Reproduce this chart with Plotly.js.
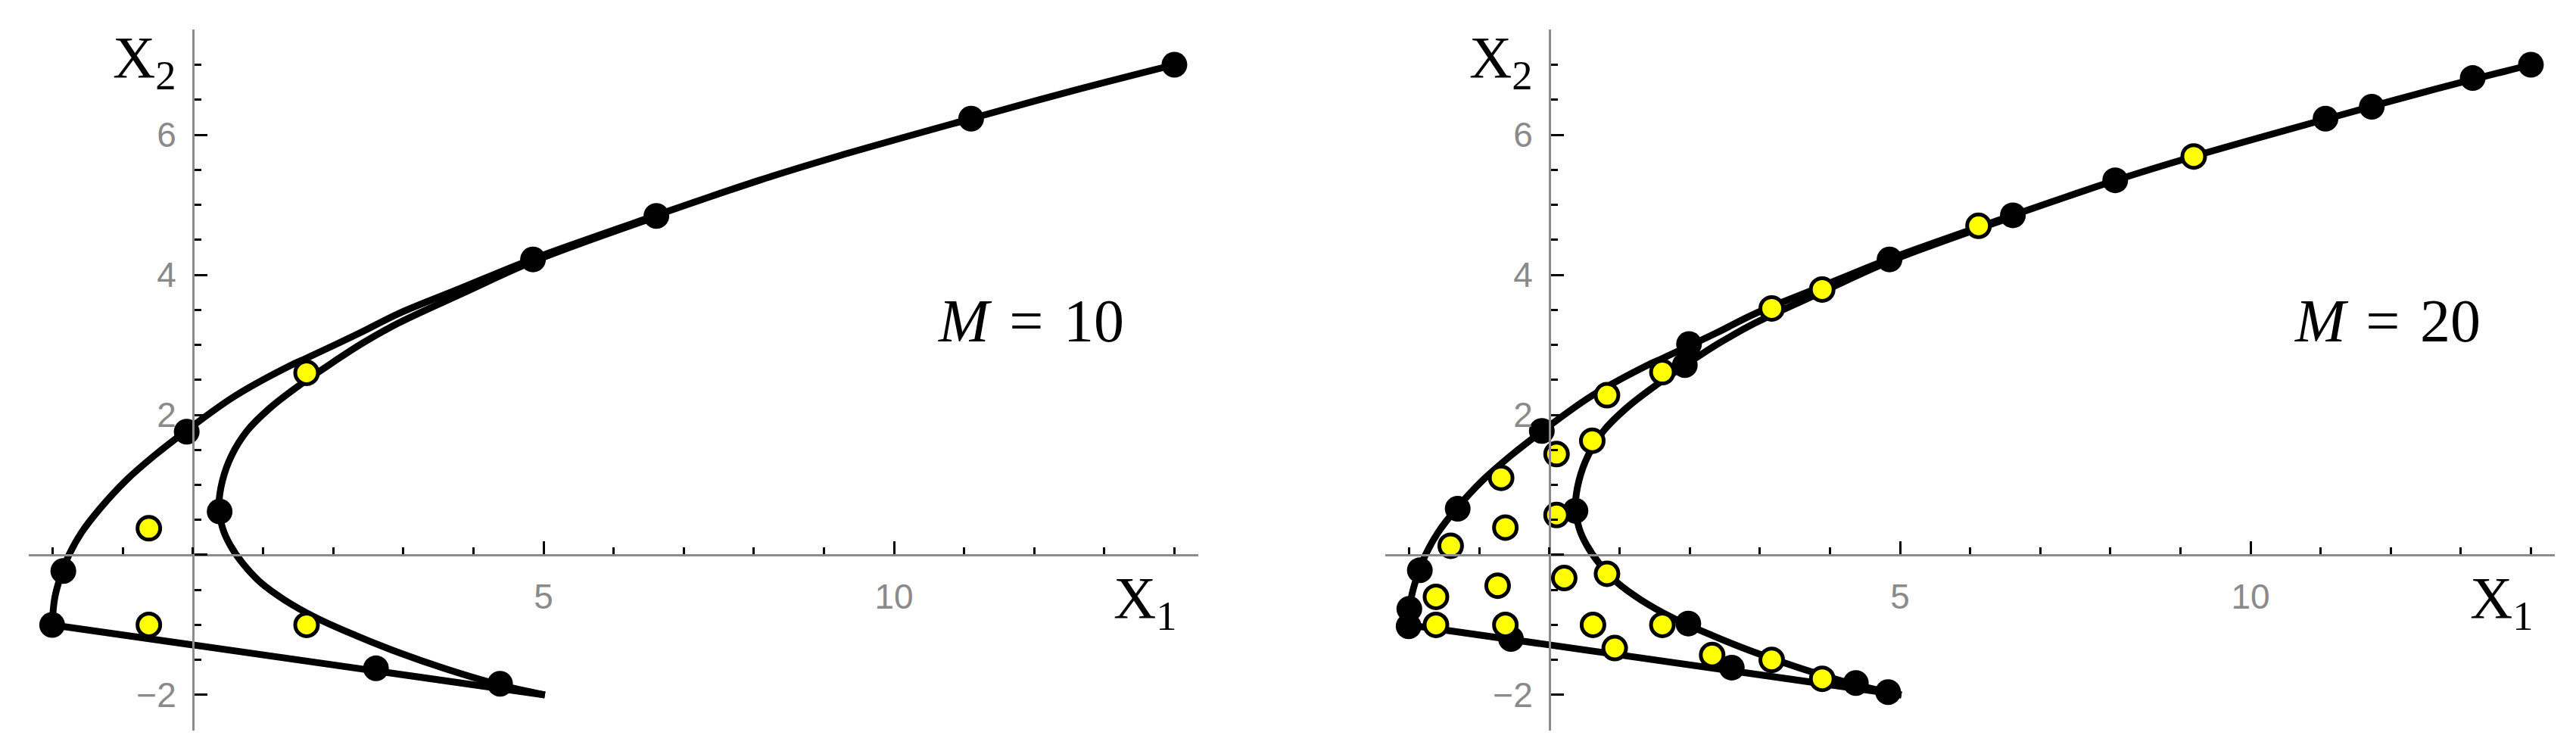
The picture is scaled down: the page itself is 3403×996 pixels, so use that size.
<!DOCTYPE html>
<html>
<head>
<meta charset="utf-8">
<script src="https://cdn.plot.ly/plotly-3.0.1.min.js"></script>
<style>html,body{margin:0;padding:0;background:#fff;}#chart{width:3403px;height:996px;}</style>
</head>
<body>
<div id="chart"></div>
<script>
// ---- Data ----
// Outer boundary curve, from top-right down to the left corner
const outerX = [14.0, 12.52, 11.1, 9.22, 8.08, 6.58, 4.83, 3.8, 2.93, 2.38, 1.62, 1.38, 0.6, -0.10, -0.55, -0.96, -1.32, -1.59, -1.77, -1.86, -1.97, -2.01];
const outerY = [7.0, 6.62, 6.23, 5.70, 5.35, 4.84, 4.22, 3.80, 3.445, 3.17, 2.81, 2.70, 2.27, 1.77, 1.42, 1.06, 0.67, 0.32, 0.00, -0.22, -0.6, -1.0];
// Straight lower boundary
const lowerX = [-2.01, 5.02];
const lowerY = [-1.0, -2.0];
// Inner boundary curve
const innerX = [6.61, 4.85, 3.9, 2.93, 2.43, 1.95, 1.50, 1.10, 0.77, 0.55, 0.42, 0.37, 0.42, 0.53, 0.70, 0.97, 1.30, 1.76, 2.32, 2.92, 3.58, 4.35, 5.02];
const innerY = [4.83, 4.19, 3.76, 3.31, 3.03, 2.72, 2.41, 2.10, 1.77, 1.42, 1.06, 0.70, 0.39, 0.14, -0.11, -0.40, -0.64, -0.90, -1.15, -1.39, -1.62, -1.85, -2.0];

// M = 10 points
const m10BlackX = [14.0, 11.1, 6.61, 4.85, -0.09, 0.38, -1.85, -2.01, 2.61, 4.38];
const m10BlackY = [7.0, 6.23, 4.84, 4.22, 1.76, 0.62, -0.23, -1.0, -1.62, -1.84];
const m10YellowX = [1.62, -0.63, -0.63, 1.62];
const m10YellowY = [2.60, 0.38, -1.0, -1.0];

// M = 20 points
const m20BlackX = [14.0, 13.17, 11.73, 11.07, 8.07, 6.61, 4.85, 1.99, 1.93, -0.11, 0.37, -1.31, -1.85, -2.0, -2.01, -0.55, 1.98, 2.60, 4.37, 4.83];
const m20BlackY = [7.0, 6.81, 6.40, 6.23, 5.35, 4.85, 4.22, 3.01, 2.71, 1.77, 0.63, 0.66, -0.22, -0.77, -1.02, -1.2, -0.98, -1.61, -1.83, -1.96];
const m20YellowX = [9.19, 6.12, 3.89, 3.17, 1.61, 0.82, 0.61, 0.10, -0.69, 0.10, -0.63, -1.41, -0.74, 0.21, 0.82, -1.62, -1.62, -0.63, 0.62, 1.61, 0.93, 2.32, 3.17, 3.89];
const m20YellowY = [5.69, 4.70, 3.79, 3.52, 2.61, 2.28, 1.63, 1.44, 1.10, 0.57, 0.39, 0.13, -0.44, -0.33, -0.27, -0.60, -1.0, -1.0, -1.0, -1.0, -1.33, -1.43, -1.50, -1.77];

const panelLabels = ['<i>M</i>\u2004=\u200410', '<i>M</i>\u2004=\u200420'];
const xTickVals = [5, 10];
const xTickText = ['5', '10'];
const yTickVals = [-2, 0, 2, 4, 6];
const yTickText = ['\u22122', '', '2', '4', '6'];

// ---- Layout geometry ----
const W = 3403, H = 996;
const xr = [-2.34, 14.34];
const yr = [-2.505, 7.505];
const xdoms = [[38.3 / W, 1582.9 / W], [1830.3 / W, 3374.9 / W]];
const ydom = [1 - 964.7 / H, 1 - 38.8 / H];

const LINE_W = 9;
const curveStyle = {color: '#000', width: LINE_W};

function panelTraces(xa, ya, bx, by, yx, yy) {
  return [
    {x: outerX, y: outerY, xaxis: xa, yaxis: ya, mode: 'lines', line: Object.assign({shape: 'spline', smoothing: 1}, curveStyle), hoverinfo: 'skip'},
    {x: innerX, y: innerY, xaxis: xa, yaxis: ya, mode: 'lines', line: Object.assign({shape: 'spline', smoothing: 1}, curveStyle), hoverinfo: 'skip'},
    {x: lowerX, y: lowerY, xaxis: xa, yaxis: ya, mode: 'lines', line: Object.assign({shape: 'linear'}, curveStyle), hoverinfo: 'skip'},
    {x: bx, y: by, xaxis: xa, yaxis: ya, mode: 'markers', marker: {size: 34, color: '#000', line: {width: 0}}},
    {x: yx, y: yy, xaxis: xa, yaxis: ya, mode: 'markers', marker: {size: 30, color: '#ffff00', line: {width: 5, color: '#000'}}}
  ];
}

const data = [].concat(
  panelTraces('x', 'y', m10BlackX, m10BlackY, m10YellowX, m10YellowY),
  panelTraces('x2', 'y2', m20BlackX, m20BlackY, m20YellowX, m20YellowY)
);

const tickFont = {family: 'Liberation Sans, Arial, sans-serif', size: 46, color: '#8a8a8a'};

function xAxis(dom) {
  const pos = ydom[0] + (0 - yr[0]) / (yr[1] - yr[0]) * (ydom[1] - ydom[0]);
  return {
    domain: dom, range: xr, anchor: 'free', position: pos, side: 'bottom',
    showgrid: false, zeroline: false, showline: true, linecolor: '#8c8c8c', linewidth: 3,
    tickmode: 'array', tickvals: xTickVals, ticktext: xTickText,
    ticks: 'inside', ticklen: 17, tickwidth: 3, tickcolor: '#000',
    minor: {tickmode: 'linear', tick0: 0, dtick: 1, ticks: 'inside', ticklen: 9, tickwidth: 3, tickcolor: '#000'},
    tickfont: tickFont, ticklabelstandoff: 14, fixedrange: true
  };
}
function yAxis(xdom) {
  const pos = xdom[0] + (0 - xr[0]) / (xr[1] - xr[0]) * (xdom[1] - xdom[0]);
  return {
    domain: ydom, range: yr, anchor: 'free', position: pos, side: 'left',
    showgrid: false, zeroline: false, showline: true, linecolor: '#8c8c8c', linewidth: 3,
    tickmode: 'array', tickvals: yTickVals, ticktext: yTickText,
    ticks: 'inside', ticklen: 17, tickwidth: 3, tickcolor: '#000',
    minor: {tickmode: 'linear', tick0: 0, dtick: 0.5, ticks: 'inside', ticklen: 9, tickwidth: 3, tickcolor: '#000'},
    tickfont: tickFont, ticklabelstandoff: 12, fixedrange: true
  };
}

const serif = 'Liberation Serif, Times New Roman, serif';
const annotations = [];
[['x', 'y'], ['x2', 'y2']].forEach(function (ax, i) {
  annotations.push({xref: ax[0], yref: ax[1], x: -0.22, y: 7.05, xanchor: 'right', yanchor: 'middle',
    text: 'X<sub>2</sub>', showarrow: false, font: {family: serif, size: 78, color: '#000'}});
  annotations.push({xref: ax[0], yref: ax[1], x: 14.06, y: -0.12, xanchor: 'right', yanchor: 'top',
    text: 'X<sub>1</sub>', showarrow: false, font: {family: serif, size: 78, color: '#000'}});
  annotations.push({xref: ax[0], yref: ax[1], x: 11.95, y: 3.34, xanchor: 'center', yanchor: 'middle',
    text: panelLabels[i], showarrow: false, font: {family: serif, size: 80, color: '#000'}});
});

const layout = {
  width: W, height: H,
  margin: {l: 0, r: 0, t: 0, b: 0, pad: 0},
  paper_bgcolor: '#fff', plot_bgcolor: 'rgba(0,0,0,0)',
  showlegend: false,
  xaxis: xAxis(xdoms[0]), yaxis: yAxis(xdoms[0]),
  xaxis2: xAxis(xdoms[1]), yaxis2: yAxis(xdoms[1]),
  annotations: annotations
};

Plotly.newPlot('chart', data, layout, {staticPlot: true, displayModeBar: false});
</script>
</body>
</html>
